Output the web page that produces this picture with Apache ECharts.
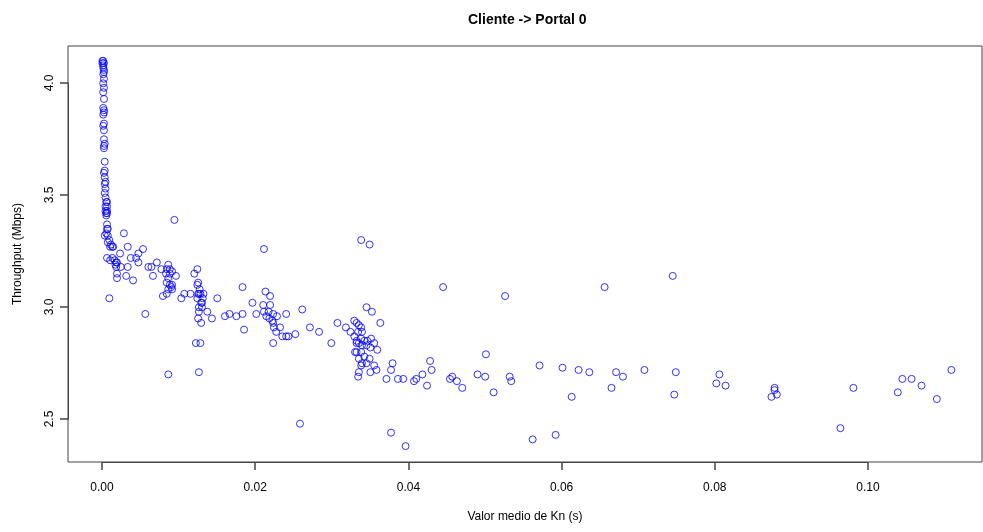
<!DOCTYPE html>
<html>
<head>
<meta charset="utf-8">
<script src="https://cdn.jsdelivr.net/npm/echarts@6/dist/echarts.min.js"></script>
<style>
  html, body { margin: 0; padding: 0; background: #fff; }
  #chart { width: 983px; height: 532px; }
</style>
</head>
<body>
<div id="chart"></div>
<script>
/* ----------------------------- data ----------------------------- */
// mean Kn (s)
var kn = [
  0.0000, 0.0001, 0.0000, 0.0002, 0.0001, 0.0001, 0.0002,
  0.0002, 0.0001, 0.0002, 0.0001, 0.0002, 0.0001, 0.0002,
  0.0001, 0.0002, 0.0002, 0.0001, 0.0002, 0.0001, 0.0002,
  0.0002, 0.0003, 0.0002, 0.0002,
  0.0003, 0.0003, 0.0002, 0.0003, 0.0004, 0.0003, 0.0004, 0.0003, 0.0004, 0.0005, 0.0004, 0.0004, 0.0005,
  0.0006, 0.0006, 0.0006, 0.0006, 0.0005,
  0.0006, 0.0006, 0.0007, 0.0005, 0.0007, 0.0003,
  0.0009, 0.0007, 0.0011, 0.0013, 0.0014, 0.0010,
  0.0028, 0.0033, 0.0023,
  0.0006, 0.0010, 0.0013, 0.0018, 0.0019, 0.0016, 0.0017,
  0.0024, 0.0018, 0.0019, 0.0019,
  0.0009,
  0.0033, 0.0031, 0.0040,
  0.0037, 0.0044, 0.0047, 0.0053, 0.0047,
  0.0094,
  0.0060, 0.0064, 0.0066, 0.0071, 0.0077,
  0.0056,
  0.0086, 0.0084, 0.0088, 0.0083, 0.0091, 0.0086, 0.0084, 0.0088, 0.0091, 0.0086, 0.0091, 0.0084, 0.0096, 0.0088, 0.0090,
  0.0079,
  0.0103, 0.0107, 0.0115,
  0.0124, 0.0120, 0.0125, 0.0124, 0.0126, 0.0125, 0.0124, 0.0128, 0.0130, 0.0129, 0.0126, 0.0130, 0.0137, 0.0126, 0.0125, 0.0129, 0.0143, 0.0132, 0.0127, 0.0131,
  0.0122, 0.0128,
  0.0086, 0.0126,
  0.0150,
  0.0160, 0.0166, 0.0175,
  0.0183, 0.0183, 0.0185,
  0.0196, 0.0201,
  0.0211,
  0.0213, 0.0219, 0.0210, 0.0219, 0.0211, 0.0217, 0.0223, 0.0214, 0.0218, 0.0222, 0.0228, 0.0223, 0.0224, 0.0232, 0.0227, 0.0235, 0.0240, 0.0243, 0.0252, 0.0223, 0.0240, 0.0261,
  0.0271, 0.0283,
  0.0299, 0.0307, 0.0318, 0.0324,
  0.0338, 0.0349,
  0.0345, 0.0352, 0.0363,
  0.0329, 0.0332, 0.0335, 0.0338, 0.0339, 0.0334, 0.0329, 0.0332, 0.0338, 0.0342, 0.0351, 0.0346, 0.0332, 0.0335, 0.0339, 0.0345, 0.0350,
  0.0355, 0.0359, 0.0330, 0.0332, 0.0338, 0.0342, 0.0349, 0.0335, 0.0339, 0.0345, 0.0338, 0.0350, 0.0355, 0.0358, 0.0335, 0.0334,
  0.0371, 0.0379, 0.0377, 0.0386, 0.0393,
  0.0407, 0.0410, 0.0418, 0.0424,
  0.0258, 0.0377, 0.0396,
  0.0445, 0.0526, 0.0656, 0.0745,
  0.0428, 0.0430,
  0.0454, 0.0457, 0.0463, 0.0470,
  0.0501,
  0.0490, 0.0500, 0.0511,
  0.0532, 0.0534,
  0.0571, 0.0601, 0.0622, 0.0636, 0.0671, 0.0680, 0.0665, 0.0708, 0.0749, 0.0747, 0.0613,
  0.0562, 0.0592,
  0.0806, 0.0802, 0.0814,
  0.0878, 0.0878, 0.0874, 0.0881,
  0.0981, 0.0964,
  0.1045, 0.1057, 0.1070, 0.1039, 0.1090, 0.1109
];

// throughput (Mbps)
var throughput = [
  4.10, 4.10, 4.09, 4.09, 4.08, 4.07, 4.06,
  4.05, 4.04, 4.02, 4.00, 3.98, 3.96, 3.93,
  3.89, 3.88, 3.87, 3.86, 3.82, 3.81, 3.79,
  3.75, 3.73, 3.72, 3.71,
  3.65, 3.61, 3.60, 3.58, 3.56, 3.55, 3.53, 3.51, 3.49, 3.47, 3.45, 3.43, 3.42,
  3.47, 3.45, 3.43, 3.42, 3.41,
  3.37, 3.35, 3.35, 3.33, 3.32, 3.32,
  3.30, 3.29, 3.28, 3.27, 3.27, 3.27,
  3.33, 3.27, 3.24,
  3.22, 3.21, 3.22, 3.20, 3.20, 3.21, 3.19,
  3.18, 3.18, 3.15, 3.13,
  3.04,
  3.18, 3.14, 3.12,
  3.22, 3.22, 3.24, 3.26, 3.20,
  3.39,
  3.18, 3.18, 3.14, 3.20, 3.17,
  2.97,
  3.19, 3.17, 3.15, 3.15, 3.16, 3.13, 3.11, 3.10, 3.10, 3.08, 3.08, 3.06, 3.14, 3.17, 3.09,
  3.05,
  3.04, 3.06, 3.06,
  3.17, 3.15, 3.11, 3.10, 3.06, 3.06, 3.04, 3.06, 3.02, 3.02, 3.00, 3.00, 2.98, 2.98, 2.95, 2.93, 2.95, 3.06, 3.08, 3.04,
  2.84, 2.84,
  2.70, 2.71,
  3.04,
  2.96, 2.97, 2.96,
  3.09, 2.97, 2.90,
  3.02, 2.97,
  3.26,
  3.07, 3.05, 3.01, 3.01, 2.98, 2.98, 2.97, 2.96, 2.95, 2.94, 2.96, 2.93, 2.91, 2.91, 2.89, 2.87, 2.87, 2.87, 2.88, 2.84, 2.97, 2.99,
  2.91, 2.89,
  2.84, 2.93, 2.91, 2.89,
  3.30, 3.28,
  3.00, 2.98, 2.93,
  2.94, 2.93, 2.92, 2.91, 2.89, 2.89, 2.87, 2.85, 2.86, 2.85, 2.86, 2.85, 2.84, 2.84, 2.83, 2.83, 2.82,
  2.84, 2.81, 2.80, 2.80, 2.80, 2.78, 2.77, 2.77, 2.75, 2.75, 2.74, 2.71, 2.74, 2.72, 2.71, 2.69,
  2.68, 2.75, 2.72, 2.68, 2.68,
  2.67, 2.68, 2.70, 2.65,
  2.48, 2.44, 2.38,
  3.09, 3.05, 3.09, 3.14,
  2.76, 2.72,
  2.68, 2.69, 2.67, 2.64,
  2.79,
  2.70, 2.69, 2.62,
  2.69, 2.67,
  2.74, 2.73, 2.72, 2.71, 2.71, 2.69, 2.64, 2.72, 2.71, 2.61, 2.60,
  2.41, 2.43,
  2.70, 2.66, 2.65,
  2.64, 2.63, 2.60, 2.61,
  2.64, 2.46,
  2.68, 2.68, 2.65, 2.62, 2.59, 2.72
];

// axis ranges (R pads the data range by 4%) and tick steps
var xRange = [-0.0045, 0.1149];
var yRange = [2.309, 4.1665];
var xTickRange = [0.00, 0.10];
var yTickRange = [2.5, 4.0];
var xStep = 0.02;
var yStep = 0.5;

/* ---------------------------- chart ----------------------------- */
var chartDom = document.getElementById('chart');
var myChart = echarts.init(chartDom);

var points = kn.map(function (k, i) {
  return [k, throughput[i]];
});

var font = 'Liberation Sans';
var axisColor = '#444';

// plot box in pixels
var box = { left: 68, right: 1, top: 46, bottom: 70 };
var W = 983, H = 532;
var plotW = W - box.left - box.right;
var plotH = H - box.top - box.bottom;

// R draws its axis line only between the first and last tick,
// so the tick axes get their own grids spanning that part of the box
function xPix(v) { return box.left + (v - xRange[0]) / (xRange[1] - xRange[0]) * plotW; }
function yPix(v) { return box.top + (yRange[1] - v) / (yRange[1] - yRange[0]) * plotH; }

var option = {
  animation: false,
  backgroundColor: '#ffffff',
  title: {
    text: 'Cliente -> Portal 0',
    left: 463,
    top: 8,
    textStyle: {
      fontFamily: font,
      fontSize: 14,
      fontWeight: 'bold',
      color: '#000'
    }
  },
  grid: [
    {
      show: true,
      left: box.left,
      right: box.right,
      top: box.top,
      bottom: box.bottom,
      borderColor: axisColor,
      borderWidth: 1,
      backgroundColor: 'transparent'
    },
    {
      left: Math.round(xPix(xTickRange[0])),
      right: W - Math.round(xPix(xTickRange[1])),
      top: box.top,
      bottom: box.bottom
    },
    {
      left: box.left,
      right: box.right,
      top: Math.round(yPix(yTickRange[1])),
      bottom: H - Math.round(yPix(yTickRange[0]))
    }
  ],
  xAxis: [
    {
      gridIndex: 0,
      type: 'value',
      min: xRange[0],
      max: xRange[1],
      name: 'Valor medio de Kn (s)',
      nameLocation: 'middle',
      nameGap: 49,
      nameTextStyle: { fontFamily: font, fontSize: 12, color: '#000' },
      axisLine: { show: false },
      axisTick: { show: false },
      axisLabel: { show: false },
      splitLine: { show: false }
    },
    {
      gridIndex: 1,
      type: 'value',
      min: xTickRange[0],
      max: xTickRange[1],
      interval: xStep,
      axisLine: { show: true, onZero: false, lineStyle: { color: axisColor } },
      axisTick: { show: true, length: 8, lineStyle: { color: axisColor, width: 1.5 } },
      axisLabel: {
        margin: 20,
        fontFamily: font,
        fontSize: 12,
        color: '#000',
        formatter: function (v) { return v.toFixed(2); }
      },
      splitLine: { show: false }
    },
    { gridIndex: 2, type: 'value', show: false }
  ],
  yAxis: [
    {
      gridIndex: 0,
      type: 'value',
      min: yRange[0],
      max: yRange[1],
      name: 'Throughput (Mbps)',
      nameLocation: 'middle',
      nameGap: 44,
      nameRotate: 90,
      nameTextStyle: { fontFamily: font, fontSize: 12, color: '#000' },
      axisLine: { show: false },
      axisTick: { show: false },
      axisLabel: { show: false },
      splitLine: { show: false }
    },
    { gridIndex: 1, type: 'value', show: false },
    {
      gridIndex: 2,
      type: 'value',
      min: yTickRange[0],
      max: yTickRange[1],
      interval: yStep,
      axisLine: { show: true, onZero: false, lineStyle: { color: axisColor } },
      axisTick: { show: true, length: 8, lineStyle: { color: axisColor, width: 1.5 } },
      axisLabel: {
        rotate: 90,
        margin: 12,
        fontFamily: font,
        fontSize: 12,
        color: '#000',
        formatter: function (v) { return v.toFixed(1); }
      },
      splitLine: { show: false }
    }
  ],
  series: [{
    type: 'scatter',
    xAxisIndex: 0,
    yAxisIndex: 0,
    data: points,
    symbol: 'circle',
    symbolSize: 7,
    itemStyle: {
      color: 'rgba(0,0,0,0)',
      borderColor: '#0000ff',
      borderWidth: 1
    },
    emphasis: { disabled: true }
  }]
};

option && myChart.setOption(option);
</script>
</body>
</html>
